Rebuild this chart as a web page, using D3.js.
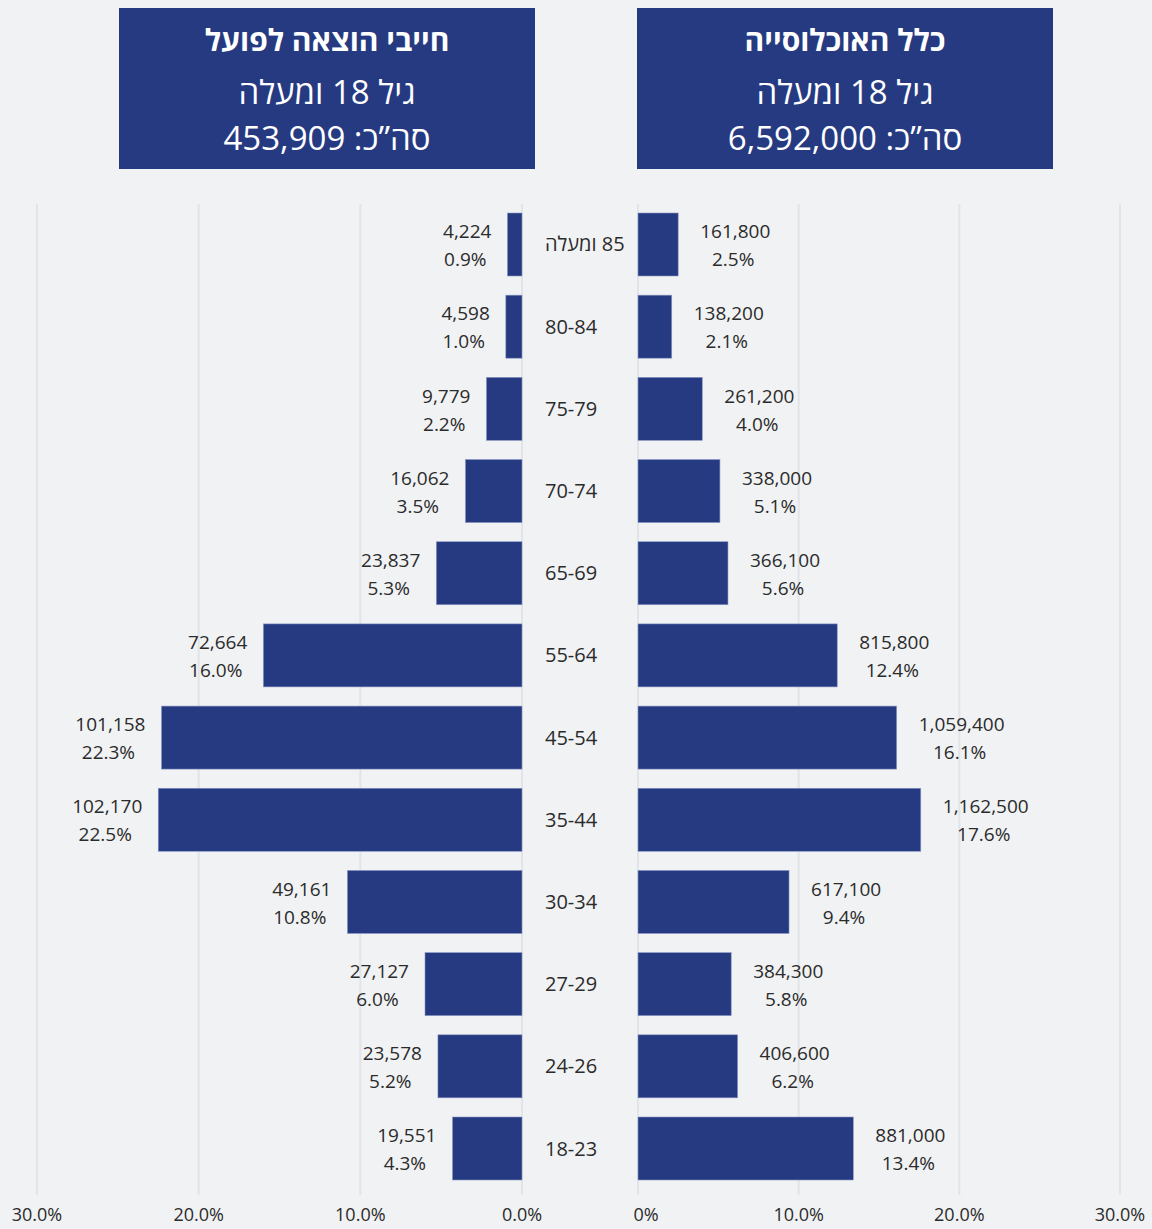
<!DOCTYPE html>
<html lang="he">
<head>
<meta charset="utf-8">
<title>פירמידת גילים</title>
<script src="https://d3js.org/d3.v7.min.js"></script>
<style>
    body { margin: 0; background: #f1f2f4; }
    svg { display: block; font-family: "Open Sans", "DejaVu Sans", sans-serif; }
</style>
</head>
<body>
<div id="chart"></div>
<script>
    // age groups, top to bottom
    var ages = ["85 ומעלה", "80-84", "75-79", "70-74", "65-69", "55-64", "45-54", "35-44", "30-34", "27-29", "24-26", "18-23"];

    // left side: obligated persons
    var leftCounts = [4224, 4598, 9779, 16062, 23837, 72664, 101158, 102170, 49161, 27127, 23578, 19551];
    var leftPct = [0.9, 1.0, 2.2, 3.5, 5.3, 16.0, 22.3, 22.5, 10.8, 6.0, 5.2, 4.3];

    // right side: whole population
    var rightCounts = [161800, 138200, 261200, 338000, 366100, 815800, 1059400, 1162500, 617100, 384300, 406600, 881000];
    var rightPct = [2.5, 2.1, 4.0, 5.1, 5.6, 12.4, 16.1, 17.6, 9.4, 5.8, 6.2, 13.4];

    var ticks = [0, 10, 20, 30];
    var leftTitle = ["חייבי הוצאה לפועל", "גיל 18 ומעלה", "סה\u201dכ: 453,909"];
    var rightTitle = ["כלל האוכלוסייה", "גיל 18 ומעלה", "סה\u201dכ: 6,592,000"];

    var width = 1152, height = 1229;
    var barColor = "#263a82";
    var textColor = "#2b2b2b";
    var fmt = d3.format(",");

    var svg = d3.select("#chart").append("svg")
        .attr("width", width)
        .attr("height", height);

    var xLeft = d3.scaleLinear().domain([0, 30]).range([522, 37]);
    var xRight = d3.scaleLinear().domain([0, 30]).range([638, 1120]);
    var y = d3.scaleBand().domain(ages).range([204, 1189]).paddingInner(0.2334).paddingOuter(0.1095);

    // gridlines
    [xLeft, xRight].forEach(function(x) {
        svg.append("g").selectAll("line")
            .data(ticks)
            .enter().append("line")
            .attr("x1", function(d) { return x(d); })
            .attr("x2", function(d) { return x(d); })
            .attr("y1", 204)
            .attr("y2", 1195)
            .attr("stroke", "#e1e4e9")
            .attr("stroke-width", 2);
    });

    // header boxes
    function header(x0, lines) {
        var g = svg.append("g");
        g.append("rect")
            .attr("x", x0).attr("y", 8)
            .attr("width", 416).attr("height", 161)
            .attr("fill", barColor);
        g.selectAll("text")
            .data(lines)
            .enter().append("text")
            .attr("x", x0 + 208)
            .attr("y", function(d, i) { return [40, 92, 138][i]; })
            .attr("dy", "0.35em")
            .attr("direction", "rtl")
            .attr("text-anchor", "middle")
            .attr("fill", "#ffffff")
            .attr("font-size", function(d, i) { return i === 0 ? 30 : 33; })
            .attr("font-weight", function(d, i) { return i === 0 ? "bold" : "normal"; })
            .text(function(d) { return d; });
    }
    header(119, leftTitle);
    header(637, rightTitle);

    var rows = ages.map(function(a, i) {
        return { age: a, lc: leftCounts[i], lp: leftPct[i], rc: rightCounts[i], rp: rightPct[i] };
    });

    // bars
    svg.append("g").selectAll("rect")
        .data(rows)
        .enter().append("rect")
        .attr("x", function(d) { return xLeft(d.lp); })
        .attr("y", function(d) { return y(d.age); })
        .attr("width", function(d) { return xLeft(0) - xLeft(d.lp); })
        .attr("height", y.bandwidth())
        .attr("fill", barColor)
        .attr("stroke", "#8a97c4")
        .attr("stroke-width", 0.6);

    svg.append("g").selectAll("rect")
        .data(rows)
        .enter().append("rect")
        .attr("x", xRight(0))
        .attr("y", function(d) { return y(d.age); })
        .attr("width", function(d) { return xRight(d.rp) - xRight(0); })
        .attr("height", y.bandwidth())
        .attr("fill", barColor)
        .attr("stroke", "#8a97c4")
        .attr("stroke-width", 0.6);

    // value labels
    function labels(side) {
        var g = svg.append("g").attr("font-size", 19).attr("fill", textColor);
        var items = g.selectAll("g")
            .data(rows)
            .enter().append("g");
        items.append("text")
            .attr("class", "num")
            .attr("y", function(d) { return y(d.age) + y.bandwidth() / 2 - 13; })
            .attr("dy", "0.35em")
            .attr("text-anchor", side === "left" ? "end" : "start")
            .attr("x", function(d) {
                return side === "left" ? xLeft(d.lp) - 16 : xRight(d.rp) + 22;
            })
            .text(function(d) { return fmt(side === "left" ? d.lc : d.rc); });
        // percent line centred under the count
        items.each(function(d) {
            var num = d3.select(this).select(".num").node().getBBox();
            d3.select(this).append("text")
                .attr("x", num.x + num.width / 2 - 2)
                .attr("y", y(d.age) + y.bandwidth() / 2 + 15)
                .attr("dy", "0.35em")
                .attr("text-anchor", "middle")
                .text(d3.format(".1f")(side === "left" ? d.lp : d.rp) + "%");
        });
    }
    labels("left");
    labels("right");

    // age labels in the middle, left edge aligned
    svg.append("g").selectAll("text")
        .data(rows)
        .enter().append("text")
        .attr("y", function(d) { return y(d.age) + y.bandwidth() / 2; })
        .attr("dy", "0.35em")
        .attr("direction", "rtl")
        .attr("text-anchor", "middle")
        .attr("font-size", 20)
        .attr("fill", textColor)
        .text(function(d) { return d.age; })
        .attr("x", function() { return 545 + this.getComputedTextLength() / 2; });

    // axis labels
    svg.append("g").selectAll("text")
        .data(ticks)
        .enter().append("text")
        .attr("x", function(d) { return xLeft(d); })
        .attr("y", 1215)
        .attr("dy", "0.35em")
        .attr("text-anchor", "middle")
        .attr("font-size", 18)
        .attr("fill", textColor)
        .text(function(d) { return d3.format(".1f")(d) + "%"; });

    svg.append("g").selectAll("text")
        .data(ticks)
        .enter().append("text")
        .attr("x", function(d) { return d === 0 ? xRight(d) + 8 : xRight(d); })
        .attr("y", 1215)
        .attr("dy", "0.35em")
        .attr("text-anchor", "middle")
        .attr("font-size", 18)
        .attr("fill", textColor)
        .text(function(d) { return d === 0 ? "0%" : d3.format(".1f")(d) + "%"; });
</script>
</body>
</html>
